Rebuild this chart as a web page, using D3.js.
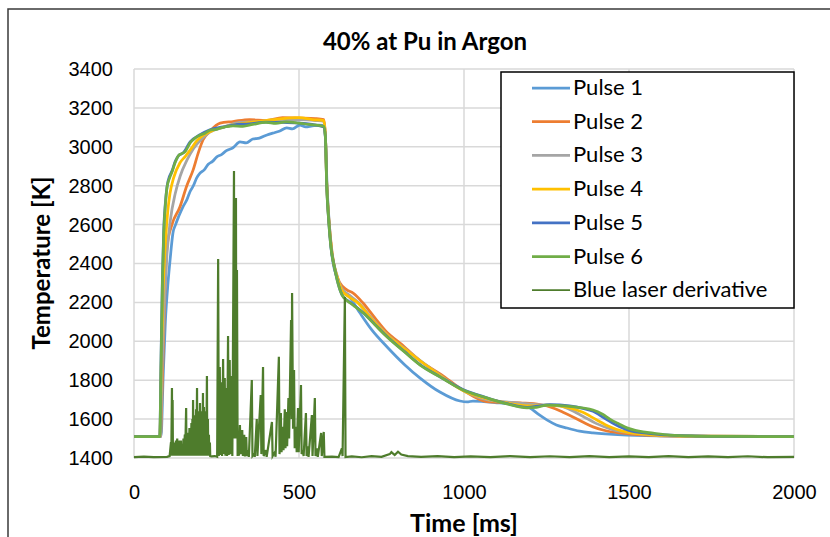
<!DOCTYPE html>
<html>
<head>
<meta charset="utf-8">
<script src="https://cdn.jsdelivr.net/npm/d3@7"></script>
<style>
  body { margin: 0; background: #fff; }
  svg { font-family: Lato, "Open Sans", sans-serif; }
  .grid line { stroke: #d9d9d9; stroke-width: 1.5; }
  .tick text { font-size: 20px; fill: #000; }
</style>
</head>
<body>
<div id="chart"></div>
<script>
// series: [time ms, temperature K]
var pulse1 = [[0,1510],[82,1510],[88,1800],[95,2100],[103,2300],[110,2430],[118,2557],[126,2600],[135,2640],[148,2690],[160,2727],[170,2770],[180,2800],[190,2840],[200,2865],[212,2880],[225,2910],[238,2925],[251,2948],[265,2960],[280,2980],[300,2995],[321,3025],[340,3020],[360,3040],[380,3045],[403,3061],[420,3070],[440,3080],[463,3097],[480,3092],[503,3112],[520,3102],[540,3108],[560,3112],[575,3110],[580,3050],[585,2800],[592,2600],[600,2440],[615,2330],[630,2265],[655,2223],[685,2145],[720,2060],[767,1971],[820,1880],[867,1811],[927,1739],[988,1693],[1009,1688],[1027,1693],[1109,1683],[1160,1675],[1200,1657],[1225,1625],[1251,1596],[1280,1570],[1312,1554],[1350,1538],[1391,1529],[1494,1518],[1624,1513],[2000,1510]];
var pulse2 = [[0,1510],[80,1510],[86,1800],[92,2150],[100,2485],[115,2600],[139,2690],[160,2800],[179,2880],[195,2970],[209,3035],[230,3080],[261,3122],[300,3130],[350,3140],[400,3135],[450,3150],[500,3148],[550,3145],[575,3140],[580,3060],[584,2820],[590,2640],[600,2460],[612,2350],[624,2300],[645,2264],[664,2248],[694,2197],[730,2120],[767,2045],[806,1991],[867,1900],[930,1830],[1000,1745],[1069,1690],[1170,1683],[1230,1675],[1270,1657],[1300,1635],[1330,1611],[1360,1585],[1391,1560],[1430,1540],[1473,1529],[1550,1518],[1650,1513],[2000,1510]];
var pulse3 = [[0,1510],[80,1510],[85,1850],[92,2200],[100,2450],[110,2620],[125,2760],[140,2850],[160,2930],[180,2990],[205,3040],[230,3075],[270,3100],[320,3125],[380,3130],[440,3140],[500,3140],[550,3135],[575,3130],[580,3055],[584,2810],[590,2630],[600,2450],[615,2340],[630,2270],[650,2240],[680,2200],[720,2120],[767,2035],[830,1950],[900,1860],[1000,1745],[1069,1700],[1150,1685],[1220,1675],[1290,1668],[1320,1650],[1360,1615],[1400,1578],[1450,1546],[1500,1530],[1580,1517],[1700,1512],[2000,1510]];
var pulse4 = [[0,1510],[78,1510],[83,1900],[88,2250],[95,2500],[103,2680],[109,2760],[120,2840],[139,2917],[155,2950],[170,2983],[190,3030],[210,3060],[240,3085],[280,3105],[330,3120],[400,3135],[450,3145],[500,3150],[540,3140],[575,3135],[580,3055],[584,2810],[590,2630],[600,2450],[615,2335],[630,2262],[650,2230],[680,2195],[720,2115],[767,2032],[830,1948],[900,1858],[1000,1745],[1069,1705],[1130,1683],[1200,1668],[1260,1670],[1320,1658],[1360,1635],[1400,1598],[1440,1562],[1480,1538],[1530,1525],[1600,1516],[1700,1512],[2000,1510]];
var pulse5 = [[0,1510],[78,1510],[82,1920],[86,2320],[90,2570],[95,2710],[100,2795],[108,2850],[115,2875],[125,2925],[135,2955],[150,2970],[170,3025],[200,3062],[230,3088],[270,3102],[300,3112],[350,3118],[400,3127],[450,3125],[503,3122],[540,3115],[575,3102],[580,3050],[584,2800],[590,2620],[597,2480],[605,2400],[615,2320],[630,2240],[645,2212],[665,2188],[695,2147],[730,2087],[767,2025],[820,1947],[867,1880],[927,1818],[997,1752],[1069,1710],[1130,1680],[1191,1660],[1230,1668],[1260,1675],[1320,1668],[1360,1655],[1391,1640],[1430,1600],[1470,1562],[1500,1542],[1560,1526],[1624,1517],[1750,1511],[2000,1510]];
var pulse6 = [[0,1510],[78,1510],[82,1900],[86,2300],[90,2550],[95,2700],[100,2790],[108,2840],[115,2870],[125,2920],[135,2955],[145,2965],[155,2975],[170,3020],[185,3045],[200,3060],[215,3070],[230,3085],[250,3090],[270,3100],[300,3108],[330,3105],[360,3115],[400,3125],[430,3120],[460,3128],[500,3122],[530,3115],[560,3110],[575,3105],[580,3050],[584,2800],[590,2620],[597,2480],[605,2400],[615,2320],[630,2240],[645,2210],[665,2185],[695,2145],[730,2085],[767,2022],[820,1945],[867,1878],[927,1817],[997,1750],[1069,1709],[1130,1678],[1191,1658],[1220,1660],[1250,1672],[1321,1665],[1391,1647],[1420,1625],[1442,1600],[1470,1575],[1494,1555],[1530,1538],[1573,1528],[1624,1518],[1700,1513],[1800,1511],[2000,1510]];
var derivT = [0,30,60,100,108,112,113,115,116,117,118,121,122,124,125,127,128,131,132,134,135,138,139,142,143,146,147,150,151,154,155,158,159,162,163,165,166,168,169,171,172,174,175,177,178,179,180,182,183,185,186,188,189,191,192,194,195,197,198,200,201,203,204,206,207,209,210,212,213,215,216,218,219,221,222,224,225,227,228,230,231,235,245,252,255,257,260,262,265,267,270,272,275,277,280,282,285,287,290,292,296,298,303,304,306,307,309,310,312,314,316,318,321,323,328,330,334,336,340,342,346,348,357,359,364,366,372,374,384,386,391,393,400,402,418,420,427,429,439,441,445,447,451,453,457,459,462,464,468,470,476,478,479,482,485,487,491,493,497,499,506,508,512,514,521,523,527,529,539,541,548,550,555,557,567,569,575,577,600,620,630,632,639,641,660,690,720,750,775,780,790,800,810,830,870,920,970,1020,1080,1140,1200,1260,1320,1380,1440,1500,1560,1620,1680,1740,1800,1860,1920,2000];
var derivK = [1405,1407,1404,1406,1410,1480,1412,1760,1412,1698,1415,1470,1412,1480,1412,1490,1412,1500,1412,1470,1412,1490,1412,1490,1412,1470,1412,1500,1412,1520,1412,1657,1412,1500,1412,1530,1412,1554,1412,1540,1412,1580,1412,1600,1412,1698,1412,1620,1412,1600,1412,1650,1412,1760,1412,1640,1412,1620,1412,1683,1412,1640,1412,1600,1412,1734,1412,1662,1412,1640,1412,1600,1412,1822,1412,1600,1412,1520,1412,1480,1410,1408,1410,1406,2423,1410,1868,1415,1790,1410,1909,1420,1811,1412,1760,1410,2027,1415,1904,1420,1822,1410,2876,1500,2200,1700,2737,1500,2367,1410,1480,1412,1570,1420,1544,1410,1520,1408,1508,1410,1440,1406,1801,1410,1420,1406,1600,1410,1724,1420,1868,1410,1440,1406,1585,1410,1430,1406,1920,1420,1631,1430,1560,1440,1650,1450,1636,1460,1708,1500,2110,1600,2248,1550,1852,1450,1560,1430,1657,1430,1775,1420,1440,1410,1631,1410,1460,1406,1621,1410,1708,1410,1450,1406,1529,1410,1534,1406,1407,1405,1450,1410,2228,1405,1408,1404,1410,1406,1420,1430,1415,1432,1418,1410,1406,1410,1404,1408,1405,1410,1404,1409,1405,1410,1404,1408,1405,1410,1404,1408,1405,1409,1404,1406];

var seriesNames = ["Pulse 1","Pulse 2","Pulse 3","Pulse 4","Pulse 5","Pulse 6","Blue laser derivative"];
var seriesColors = ["#5b9bd5","#ed7d31","#a5a5a5","#ffc000","#4472c4","#70ad47","#4e7c2c"];
var xTicks = [0,500,1000,1500,2000];
var yTicks = [1400,1600,1800,2000,2200,2400,2600,2800,3000,3200,3400];

var W = 830, H = 537;
var svg = d3.select("#chart").append("svg").attr("width", W).attr("height", H);

// chart frame (runs off the right and bottom edge like the picture)
svg.append("rect").attr("x", 8).attr("y", 9).attr("width", 900).attr("height", 600)
  .attr("fill", "#fff").attr("stroke", "#3a3a3a").attr("stroke-width", 1.5);

var x = d3.scaleLinear().domain([0, 2000]).range([134, 794]);
var y = d3.scaleLinear().domain([1400, 3400]).range([458, 69]);

// gridlines
var grid = svg.append("g").attr("class", "grid");
grid.selectAll(".h").data(yTicks).enter().append("line")
  .attr("x1", x(0)).attr("x2", x(2000)).attr("y1", d => y(d)).attr("y2", d => y(d));
grid.selectAll(".v").data(xTicks).enter().append("line")
  .attr("y1", y(1400)).attr("y2", y(3400)).attr("x1", d => x(d)).attr("x2", d => x(d));

// axes, labels only
var yAx = svg.append("g").attr("transform", "translate(" + (x(0) - 21) + ",0)")
  .call(d3.axisLeft(y).tickValues(yTicks).tickSize(0).tickPadding(0).tickFormat(d3.format("d")));
yAx.select(".domain").remove();
var xAx = svg.append("g").attr("transform", "translate(0," + (y(1400) + 27) + ")")
  .call(d3.axisBottom(x).tickValues(xTicks).tickSize(0).tickPadding(0).tickFormat(d3.format("d")));
xAx.select(".domain").remove();

// lines
var line = d3.line().x(d => x(d[0])).y(d => y(d[1])).curve(d3.curveMonotoneX);
var pulses = [pulse1, pulse2, pulse3, pulse4, pulse5, pulse6];
pulses.forEach(function(p, i) {
  svg.append("path").datum(p).attr("d", line).attr("fill", "none")
    .attr("stroke", seriesColors[i]).attr("stroke-width", 2.75).attr("stroke-linejoin", "round");
});
var deriv = derivT.map((t, i) => [t, derivK[i]]);
var dline = d3.line().x(d => x(d[0])).y(d => y(d[1]));
svg.append("path").datum(deriv).attr("d", dline).attr("fill", "none")
  .attr("stroke", seriesColors[6]).attr("stroke-width", 2.2);

// title and axis titles
svg.append("text").attr("x", 425).attr("y", 50).attr("text-anchor", "middle")
  .attr("font-size", "24px").attr("font-weight", "bold").text("40% at Pu in Argon");
svg.append("text").attr("text-anchor", "middle").attr("transform", "translate(50,263) rotate(-90)")
  .attr("font-size", "24px").attr("font-weight", "bold").text("Temperature [K]");
svg.append("text").attr("x", 464).attr("y", 532).attr("text-anchor", "middle")
  .attr("font-size", "25px").attr("font-weight", "bold").text("Time [ms]");

// legend
var leg = svg.append("g");
leg.append("rect").attr("x", 501).attr("y", 72).attr("width", 293).attr("height", 236)
  .attr("fill", "#fff").attr("stroke", "#000").attr("stroke-width", 1.5);
seriesNames.forEach(function(n, i) {
  var ly = 88 + i * 33.7;
  leg.append("line").attr("x1", 532).attr("x2", 570).attr("y1", ly).attr("y2", ly)
    .attr("stroke", seriesColors[i]).attr("stroke-width", i == 6 ? 1.8 : 2.75);
  leg.append("text").attr("x", 573).attr("y", ly + 7).attr("font-size", "22px").text(n);
});
</script>
</body>
</html>
